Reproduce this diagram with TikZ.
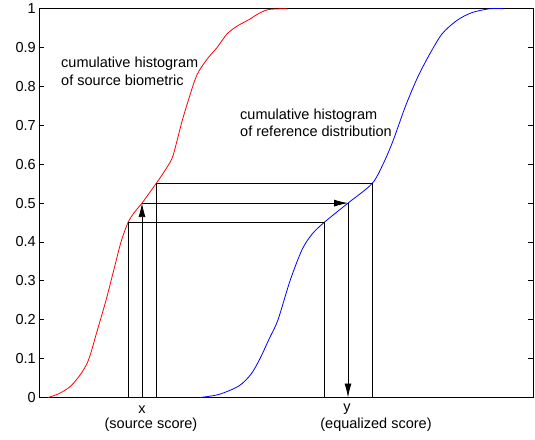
\documentclass[tikz,border=0pt]{standalone}
\usepackage{fontspec}
\setmainfont{Liberation Sans}
\usetikzlibrary{arrows.meta}

\begin{document}
\begin{tikzpicture}[x=1pt,y=388.8pt,
	every node/.style={font=\fontsize{14.5}{17.5}\selectfont},
	guide/.style={line width=0.8pt},
	flow/.style={guide, -{Latex[length=14pt,width=7pt]}},
	cdf/.style={line width=0.8pt},
	ticklbl/.style={anchor=east, inner sep=0pt}]
	\def \wid{ 494 };
	\def \tck{ 5 };
	\useasboundingbox (-39,-0.108) rectangle (496,1.0224);
	% frame and ticks
	\draw[guide] (0,0) rectangle (\wid,1);
	\foreach \k in {1,...,9} {
		\draw[guide] (0,\k/10) -- ++(\tck,0);
		\draw[guide] (\wid,\k/10) -- ++(-\tck,0);
		\node[ticklbl] (t\k) at (-3,\k/10) {0.\k};
	}
	\node[ticklbl] (t0) at (-3,0) {0};
	\node[ticklbl] (t10) at (-3,1) {1};
	% the two cumulative histograms
	\draw[cdf, red] plot[smooth, tension=0.5] coordinates {(9,0) (20,0.01) (32,0.03) (43,0.065) (50,0.1) (58,0.17) (67,0.25) (75,0.33) (82,0.4) (89,0.45) (95,0.475) (103,0.5) (110,0.525) (117,0.55) (125,0.58) (133,0.615) (138,0.66) (143,0.71) (150,0.77) (158,0.83) (168,0.87) (178,0.9) (188,0.935) (198,0.955) (210,0.972) (220,0.988) (230,0.998) (248,1)};
	\draw[cdf, blue] plot[smooth, tension=0.5] coordinates {(161,0) (180,0.008) (200,0.03) (212,0.06) (221,0.1) (230,0.15) (239,0.2) (251,0.3) (263,0.38) (273,0.42) (285,0.45) (309,0.5) (333,0.55) (344,0.6) (354,0.66) (366,0.746) (378,0.82) (390,0.88) (403,0.935) (418,0.97) (433,0.99) (451,1) (464,1)};
	% mapping points
	\coordinate (a0) at (89,0);
	\coordinate (a1) at (89,0.45);
	\coordinate (a2) at (285,0.45);
	\coordinate (a3) at (285,0);
	\coordinate (b0) at (103,0);
	\coordinate (b1) at (103,0.5);
	\coordinate (b2) at (309,0.5);
	\coordinate (b3) at (309,0);
	\coordinate (c0) at (117,0);
	\coordinate (c1) at (117,0.55);
	\coordinate (c2) at (333,0.55);
	\coordinate (c3) at (333,0);
	\draw[guide] (a0) -- (a1) -- (a2) -- (a3);
	\draw[guide] (c0) -- (c1) -- (c2) -- (c3);
	\draw[flow] (b0) -- (b1);
	\draw[flow] (b1) -- (b2);
	\draw[flow] (b2) -- (b3);
	% labels
	\node[anchor=west, align=left] (src) at (18.7,0.8384) {cumulative histogram\\of source biometric};
	\node[anchor=west, align=left] (ref) at (197.7,0.707) {cumulative histogram\\of reference distribution};
	\node (x) at (103,-0.031) {x};
	\node (xs) at (112,-0.0695) {(source score)};
	\node (y) at (308,-0.031) {y};
	\node (ys) at (337,-0.0695) {(equalized score)};
\end{tikzpicture}
\end{document}
